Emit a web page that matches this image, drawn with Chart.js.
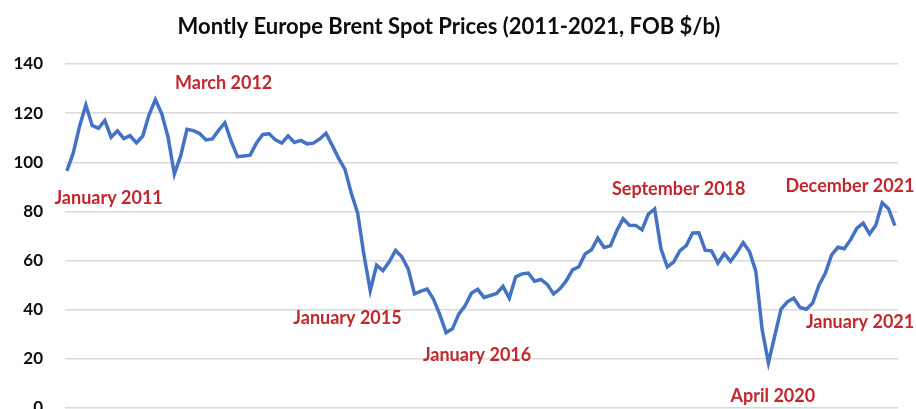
<!DOCTYPE html>
<html>
<head>
<meta charset="utf-8">
<script src="https://cdn.jsdelivr.net/npm/chart.js@4/dist/chart.umd.min.js"></script>
<style>
  html, body { margin: 0; padding: 0; background: #fff; overflow: hidden; }
  #wrap { position: absolute; left: 0; top: 0; width: 916px; height: 450px; }
</style>
</head>
<body>
<div id="wrap"><canvas id="c" width="916" height="450"></canvas></div>
<script>
// Monthly Europe Brent spot prices, FOB $/b, Jan 2011 - Dec 2021
const years = [2011, 2012, 2013, 2014, 2015, 2016, 2017, 2018, 2019, 2020, 2021];
const monthNames = ["Jan","Feb","Mar","Apr","May","Jun","Jul","Aug","Sep","Oct","Nov","Dec"];
const prices2011 = [96.5, 103.7, 114.6, 123.3, 115.0, 113.8, 117.0, 110.2, 112.8, 109.6, 110.8, 107.9];
const prices2012 = [110.7, 119.3, 125.5, 119.8, 110.3, 95.2, 102.6, 113.4, 112.9, 111.7, 109.1, 109.5];
const prices2013 = [113.0, 116.1, 108.5, 102.3, 102.6, 102.9, 107.9, 111.3, 111.6, 109.1, 107.8, 110.8];
const prices2014 = [108.1, 108.9, 107.5, 107.8, 109.5, 111.8, 106.8, 101.6, 97.1, 87.4, 79.4, 62.3];
const prices2015 = [47.8, 58.1, 55.9, 59.5, 64.1, 61.5, 56.6, 46.5, 47.6, 48.4, 44.3, 38.0];
const prices2016 = [30.7, 32.2, 38.2, 41.6, 46.7, 48.3, 45.0, 45.8, 46.6, 49.5, 44.7, 53.3];
const prices2017 = [54.6, 54.9, 51.6, 52.3, 50.3, 46.4, 48.5, 51.7, 56.2, 57.5, 62.7, 64.4];
const prices2018 = [69.1, 65.3, 66.0, 72.1, 77.0, 74.4, 74.3, 72.5, 78.9, 81.0, 64.8, 57.4];
const prices2019 = [59.4, 64.0, 66.1, 71.2, 71.3, 64.2, 63.9, 59.0, 62.8, 59.7, 63.2, 67.3];
const prices2020 = [63.7, 55.7, 32.0, 18.4, 29.4, 40.3, 43.2, 44.7, 40.9, 40.2, 42.7, 50.0];
const prices2021 = [54.8, 62.3, 65.4, 64.8, 68.5, 73.2, 75.2, 70.8, 74.5, 83.5, 81.1, 74.2];

const yTicks = [0, 20, 40, 60, 80, 100, 120, 140];

// Annotation texts and their anchor (month index, price level)
const noteTexts  = ["January 2011", "March 2012", "January 2015", "January 2016", "September 2018", "December 2021", "January 2021", "April 2020"];
const noteMonth  = [6.6, 24.8, 44.4, 64.9, 96.8, 123.9, 125.5, 111.7];
const noteLevel  = [85.4, 132.1, 36.6, 21.5, 89.0, 90.2, 35.0, 4.9];

const allPrices = [].concat(prices2011, prices2012, prices2013, prices2014, prices2015, prices2016,
                            prices2017, prices2018, prices2019, prices2020, prices2021);
const monthLabels = [];
years.forEach(y => monthNames.forEach(m => monthLabels.push(m + " " + y)));
const points = allPrices.map((v, i) => ({ x: i, y: v }));

const FONT = "Lato, 'Open Sans', 'Liberation Sans', sans-serif";

const notesPlugin = {
  id: 'notes',
  afterDatasetsDraw(chart) {
    const ctx = chart.ctx;
    const xs = chart.scales.x, ys = chart.scales.y;
    ctx.save();
    ctx.font = "bold 18px " + FONT;
    ctx.fillStyle = "#C1272D";
    ctx.textAlign = "center";
    ctx.textBaseline = "middle";
    noteTexts.forEach((t, i) => {
      ctx.fillText(t, xs.getPixelForValue(noteMonth[i]), ys.getPixelForValue(noteLevel[i]));
    });
    ctx.restore();
  }
};

new Chart(document.getElementById('c'), {
  type: 'line',
  data: {
    datasets: [{
      label: 'Brent',
      data: points,
      borderColor: '#4472C4',
      borderWidth: 3.5,
      pointRadius: 0,
      tension: 0,
      fill: false
    }]
  },
  options: {
    responsive: false,
    animation: false,
    layout: { padding: { left: 0, right: 18, top: 0, bottom: 42 } },
    plugins: {
      legend: { display: false },
      tooltip: { enabled: false },
      title: {
        display: true,
        text: 'Montly Europe Brent Spot Prices (2011-2021, FOB $/b)',
        color: '#0d0d0d',
        font: { family: FONT, size: 22, weight: 'bold' },
        padding: { top: 14, bottom: 23.6 }
      }
    },
    scales: {
      x: {
        type: 'linear',
        display: false,
        min: -0.3,
        max: 131.5
      },
      y: {
        min: 0,
        max: 140,
        afterBuildTicks(scale) { scale.ticks = yTicks.map(v => ({ value: v })); },
        afterFit(scale) { scale.width = 65; },
        border: { display: false },
        grid: { color: '#d9d9d9', lineWidth: 1.5, drawTicks: false },
        ticks: {
          padding: 22,
          color: '#0d0d0d',
          font: { family: FONT, size: 17, weight: 'bold' }
        }
      }
    }
  },
  plugins: [notesPlugin]
});
</script>
</body>
</html>
